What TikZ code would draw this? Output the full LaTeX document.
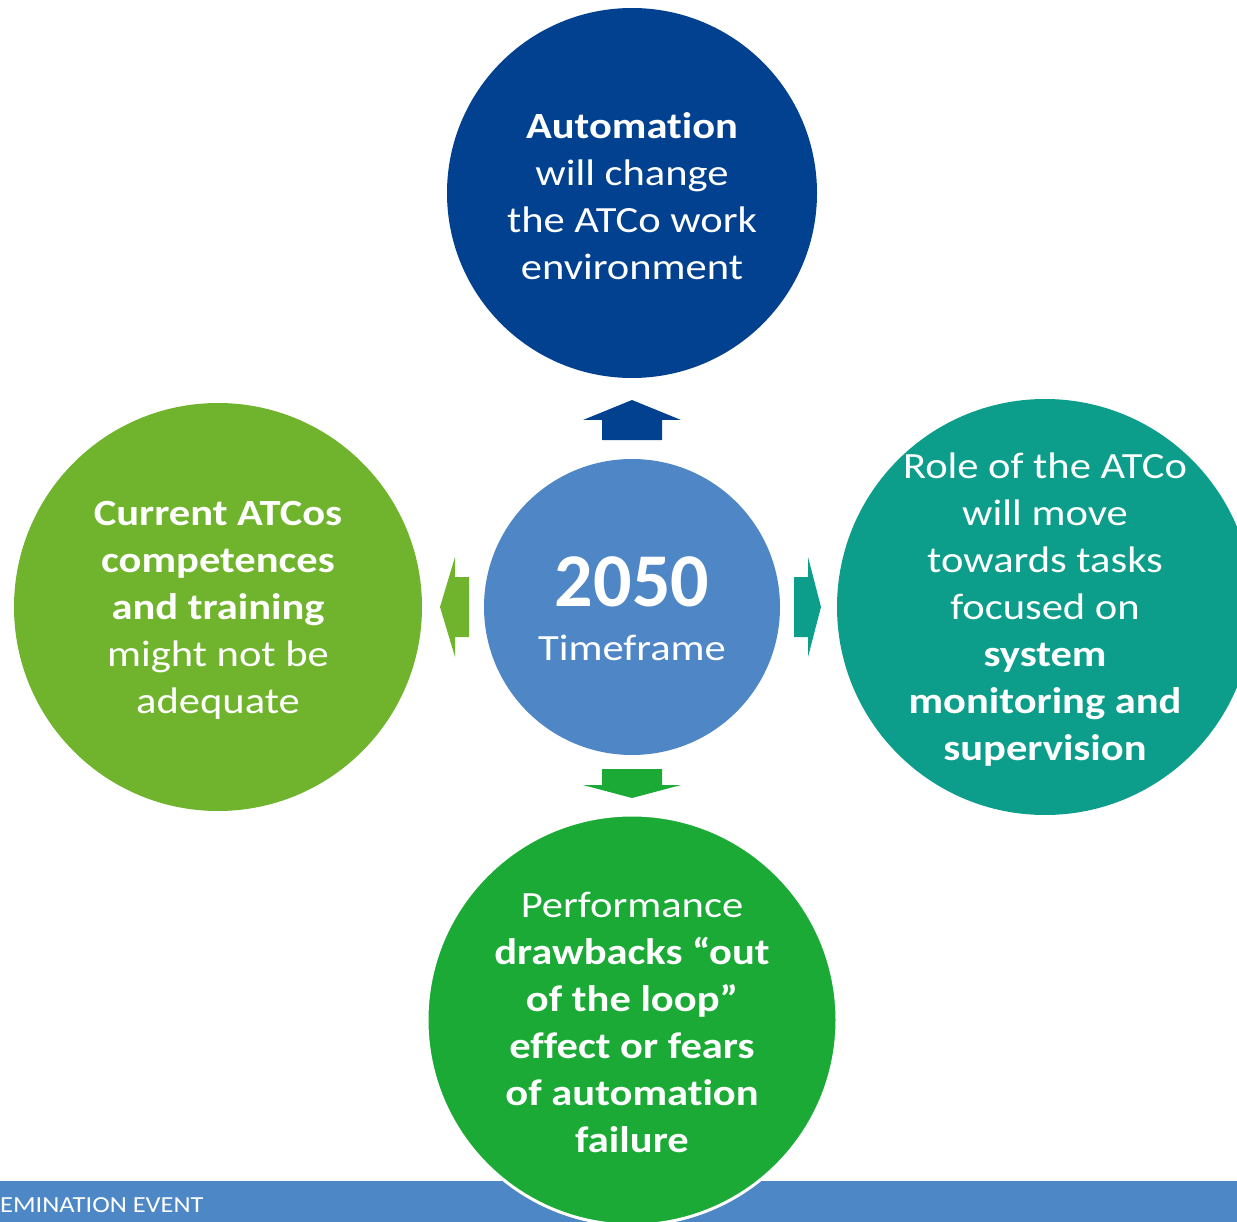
\documentclass[tikz,border=0pt]{standalone}
\usepackage{fontspec}
\setmainfont{Carlito}[FakeStretch=1.15,Ligatures=CommonOff]
\newfontfamily\yearfont{Carlito}[Ligatures=CommonOff]
\definecolor{cTop}{HTML}{02418F}
\definecolor{cMid}{HTML}{4F87C6}
\definecolor{cLeft}{HTML}{6FB42C}
\definecolor{cRight}{HTML}{0C9E8B}
\definecolor{cBot}{HTML}{1AAA35}
\definecolor{cBar}{HTML}{4E87C6}
\begin{document}
\begin{tikzpicture}[x=1pt,y=-1pt,
  bubble/.style={circle,inner sep=0pt},
  bubbletext/.style={inner sep=0pt,text=white,align=center,
    font=\fontsize{37}{47}\selectfont},
  blockarrow/.style={draw=none}]
\useasboundingbox (0,0) rectangle (1237,1222);
\clip (0,0) rectangle (1237,1222);
% bottom bar
\fill[cBar] (0,1181) rectangle (1237,1222);
\node[anchor=west,text=white,inner sep=0pt,font=\fontsize{23}{28}\selectfont] (bar) at (0,1205) {EMINATION EVENT};
% circles
\node[bubble,fill=cTop,minimum size=370pt] (top) at (632,193) {};
\node[bubbletext] (toptext) at (632,196)
  {\textbf{Automation}\\will change\\the ATCo work\\environment};
\node[bubble,fill=cMid,minimum size=296pt] (mid) at (632,607) {};
\node[text=white,inner sep=0pt,font=\yearfont\fontsize{76}{80}\selectfont\bfseries] (year) at (632,582) {2050};
\node[text=white,inner sep=0pt,font=\fontsize{37}{47}\selectfont] (tf) at (632,648) {Timeframe};
\node[bubble,fill=cLeft,minimum size=408pt] (left) at (218,607) {};
\node[bubbletext] (lefttext) at (218,610)
  {\textbf{Current ATCos}\\\textbf{competences}\\\textbf{and training}\\might not be\\adequate};
\node[bubble,fill=cRight,minimum size=416pt] (right) at (1045,607) {};
\node[bubbletext] (righttext) at (1045,610)
  {Role of the ATCo\\will move\\towards tasks\\focused on\\\textbf{system}\\\textbf{monitoring and}\\\textbf{supervision}};
\node[bubble,fill=cBot,draw=white,line width=3pt,minimum size=410pt] (bot) at (632,1020) {};
\node[bubbletext] (bottext) at (632,1022)
  {Performance\\\textbf{drawbacks “out}\\\textbf{of the loop”}\\\textbf{effect or fears}\\\textbf{of automation}\\\textbf{failure}};
% block arrows
\fill[cTop,blockarrow] (602,440) -- (602,420) -- (583,420) -- (632,400) -- (681,420) -- (662,420) -- (662,440) -- cycle;
\fill[cBot,blockarrow] (602,769) -- (662,769) -- (662,785) -- (681,785) -- (632,798) -- (583,785) -- (602,785) -- cycle;
\fill[cLeft,blockarrow] (469,577) -- (455,577) -- (455,557) -- (440,607) -- (455,657) -- (455,637) -- (469,637) -- cycle;
\fill[cRight,blockarrow] (794,577) -- (808,577) -- (808,557) -- (821,607) -- (808,657) -- (808,637) -- (794,637) -- cycle;
\end{tikzpicture}
\end{document}
